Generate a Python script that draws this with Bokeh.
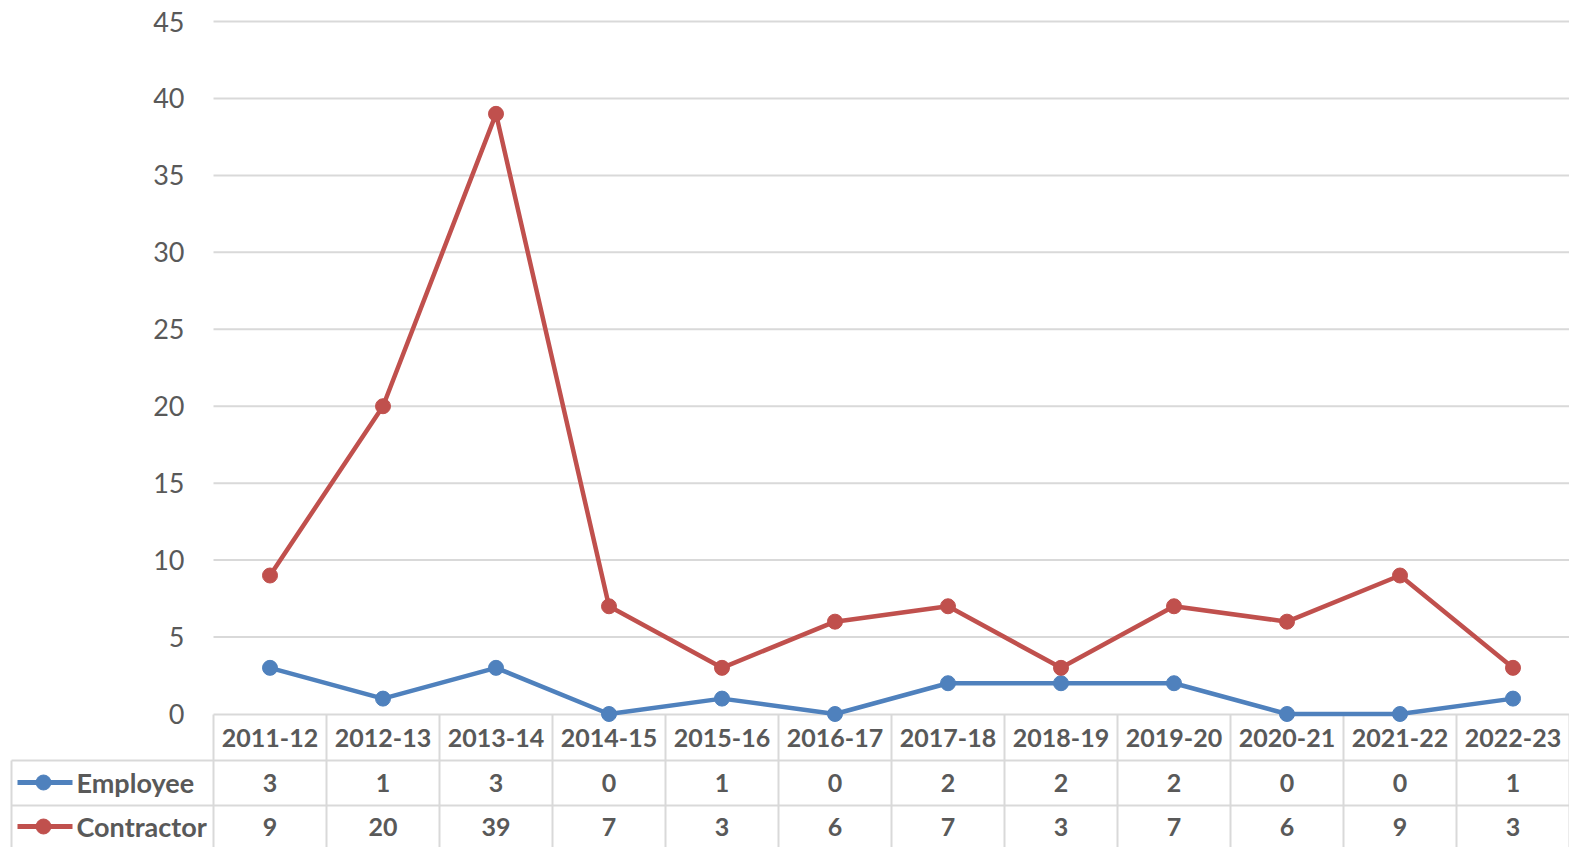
from bokeh.plotting import figure
from bokeh.models import Range1d, ColumnDataSource
from bokeh.core.properties import value
from bokeh.embed import file_html
from bokeh.resources import INLINE

# ---- data ----
years = ["2011-12", "2012-13", "2013-14", "2014-15", "2015-16", "2016-17",
         "2017-18", "2018-19", "2019-20", "2020-21", "2021-22", "2022-23"]
employee = [3, 1, 3, 0, 1, 0, 2, 2, 2, 0, 0, 1]
contractor = [9, 20, 39, 7, 3, 6, 7, 3, 7, 6, 9, 3]
y_ticks = [0, 5, 10, 15, 20, 25, 30, 35, 40, 45]
series_names = ["Employee", "Contractor"]
series_colors = ["#4f81bd", "#c0504d"]

# ---- layout (page pixels) ----
W, H = 1569, 847
OX, OY = 0, 0
STEP = 113.0
C0 = 269.5          # page x of first category centre
Y0 = 713.5          # page y of value 0
Y45 = 21.0          # page y of value 45
PPU = (Y0 - Y45) / 45.0

def fx(px):
    return (px - C0) / STEP

def fy(py):
    return (Y0 - py) / PPU

p = figure(width=W, height=H, output_backend="svg", toolbar_location=None,
           x_range=Range1d(fx(OX), fx(OX + W)), y_range=Range1d(fy(OY + H), fy(OY)),
           min_border=0, min_border_left=0, min_border_right=0,
           min_border_top=0, min_border_bottom=0)
p.xaxis.visible = False
p.yaxis.visible = False
p.xgrid.visible = False
p.ygrid.visible = False
p.outline_line_color = None
p.background_fill_color = "white"
p.border_fill_color = "white"

GRID = "#d9d9d9"
TXT = "#595959"
n = len(years)
xs = list(range(n))
xl, xr = -0.5, n - 0.5

# horizontal gridlines
gv = [v for v in y_ticks if v > 0]
p.segment(x0=[xl] * len(gv), y0=gv, x1=[xr] * len(gv), y1=gv, line_color=GRID, line_width=2)

# y tick labels
p.text(x=[fx(184)] * len(y_ticks), y=y_ticks, text=[str(v) for v in y_ticks],
       text_font=value("Lato"), text_font_size="27px", text_color=TXT,
       text_align="right", text_baseline="middle")

# ---- data table ----
row_tops = [fy(714), fy(760), fy(805)]
bottom = fy(OY + H + 20)
left_px = fx(11)
p.segment(x0=[xl, left_px, left_px], y0=row_tops, x1=[xr, xr, xr], y1=row_tops,
          line_color=GRID, line_width=2)
vx = [xl + k for k in range(n + 1)]
p.segment(x0=vx, y0=[row_tops[0]] * len(vx), x1=vx, y1=[bottom] * len(vx),
          line_color=GRID, line_width=2)
p.segment(x0=[left_px], y0=[row_tops[1]], x1=[left_px], y1=[bottom],
          line_color=GRID, line_width=2)

hdr_y = fy(737)
row_y = [fy(782), fy(826)]
p.text(x=xs, y=[hdr_y] * n, text=years, text_font=value("Lato"), text_font_style="bold",
       text_font_size="25px", text_color=TXT, text_align="center", text_baseline="middle")

for vals, ry, name, col in zip([employee, contractor], row_y, series_names, series_colors):
    p.text(x=xs, y=[ry] * n, text=[str(v) for v in vals], text_font=value("Lato"),
           text_font_style="bold", text_font_size="25px", text_color=TXT,
           text_align="center", text_baseline="middle")
    # legend key
    p.line(x=[fx(17), fx(72)], y=[ry, ry], line_color=col, line_width=5)
    p.scatter(x=[fx(43)], y=[ry], size=15, fill_color=col, line_color=col)
    p.text(x=[fx(76)], y=[ry], text=[name], text_font=value("Lato"), text_font_style="bold",
           text_font_size="27px", text_color=TXT, text_align="left", text_baseline="middle")

# ---- series ----
for vals, col in zip([employee, contractor], series_colors):
    src = ColumnDataSource(dict(x=xs, y=vals))
    p.line("x", "y", source=src, line_color=col, line_width=4.5, line_join="round")
    p.scatter("x", "y", source=src, size=15, fill_color=col, line_color=col)

open("out.html", "w").write(file_html(p, INLINE))
